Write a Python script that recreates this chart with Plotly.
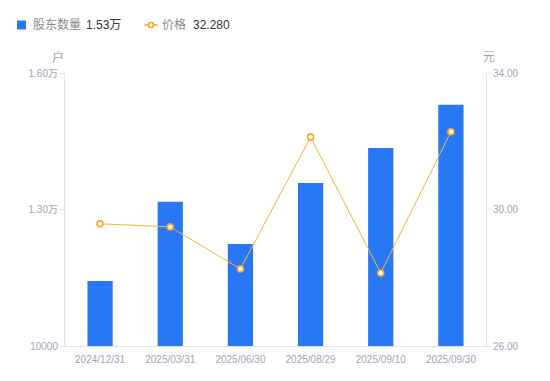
import plotly.graph_objects as go

dates = ["2024/12/31", "2025/03/31", "2025/06/30", "2025/08/29", "2025/09/10", "2025/09/30"]
holders = [11430, 13170, 12240, 13580, 14350, 15300]
prices = [29.58, 29.49, 28.26, 32.12, 28.14, 32.28]

left_ticks = [10000, 13000, 16000]
left_labels = ["10000", "1.30万", "1.60万"]
right_ticks = [26, 30, 34]
right_labels = ["26.00", "30.00", "34.00"]

FONT = "Arial, 'Liberation Sans', 'Noto Sans CJK SC', sans-serif"
tick_color = "#a3a3b5"
axis_color = "#e3e3e3"
BAR_C = "#2878F5"
LINE_C = "#F5A623"

OFF = 8  # page body margin
# plot area in screen pixels
L, R, T, B = 65, 486, 73, 346
W, H = R - L, B - T
def px(x): return (x - L) / W
def py(y): return (B - y) / H

LEG_Y = 25

fig = go.Figure()
fig.add_trace(go.Bar(
    x=dates, y=holders, name="股东数量",
    marker=dict(color=BAR_C, line=dict(width=0)), width=0.36, yaxis="y"))
fig.add_trace(go.Scatter(
    x=dates, y=prices, name="价格",
    mode="lines+markers", yaxis="y2",
    line=dict(color="#F7B23B", width=1),
    marker=dict(size=6, color="white", line=dict(color=LINE_C, width=1.6))))

shapes = [
    dict(type="rect", xref="paper", yref="paper", x0=px(17), x1=px(26), y0=py(LEG_Y + 4.5), y1=py(LEG_Y - 4.5),
         fillcolor=BAR_C, line=dict(width=0), layer="above"),
    dict(type="line", xref="paper", yref="paper", x0=px(144.5), x1=px(157.5), y0=py(LEG_Y), y1=py(LEG_Y),
         line=dict(color=LINE_C, width=1.5)),
    dict(type="circle", xref="paper", yref="paper", x0=px(148.5), x1=px(153.5), y0=py(LEG_Y + 2.5), y1=py(LEG_Y - 2.5),
         fillcolor="white", line=dict(color=LINE_C, width=1.6)),
]

annotations = [
    dict(text="股东数量", xref="paper", yref="paper", x=px(31), y=py(LEG_Y), xanchor="left",
         yanchor="middle", showarrow=False, font=dict(size=12, color="#8a8a8a")),
    dict(text="1.53万", xref="paper", yref="paper", x=px(84), y=py(LEG_Y), xanchor="left",
         yanchor="middle", showarrow=False, font=dict(size=12, color="#333333")),
    dict(text="价格", xref="paper", yref="paper", x=px(160), y=py(LEG_Y), xanchor="left",
         yanchor="middle", showarrow=False, font=dict(size=12, color="#8a8a8a")),
    dict(text="32.280", xref="paper", yref="paper", x=px(191), y=py(LEG_Y), xanchor="left",
         yanchor="middle", showarrow=False, font=dict(size=12, color="#333333")),
    dict(text="户", xref="paper", yref="paper", x=px(58), y=py(57), xanchor="center",
         yanchor="middle", showarrow=False, font=dict(size=12, color=tick_color)),
    dict(text="元", xref="paper", yref="paper", x=px(489), y=py(57), xanchor="center",
         yanchor="middle", showarrow=False, font=dict(size=12, color=tick_color)),
]

fig.update_layout(
    width=550, height=381,
    margin=dict(l=L - OFF, r=550 - (R - OFF), t=T - OFF, b=381 - (B - OFF), autoexpand=False),
    paper_bgcolor="white", plot_bgcolor="white",
    font=dict(family=FONT, size=10, color=tick_color),
    showlegend=False,
    xaxis=dict(showgrid=False, showline=True, linecolor=axis_color, linewidth=1,
               ticks="", tickfont=dict(size=10, color=tick_color), fixedrange=True,
               ticklabelstandoff=4),
    yaxis=dict(range=[10000, 16000], tickvals=left_ticks, ticktext=left_labels,
               showgrid=False, showline=True, linecolor=axis_color, linewidth=1,
               ticks="outside", ticklen=4, tickcolor=axis_color, zeroline=False,
               tickfont=dict(size=10, color=tick_color)),
    yaxis2=dict(range=[26, 34], tickvals=right_ticks, ticktext=right_labels,
                overlaying="y", side="right", showgrid=False, showline=True,
                linecolor=axis_color, linewidth=1, ticks="outside", ticklen=4,
                tickcolor=axis_color, zeroline=False,
                tickfont=dict(size=10, color=tick_color)),
    shapes=shapes,
    annotations=annotations,
)

fig.write_html("out.html")
